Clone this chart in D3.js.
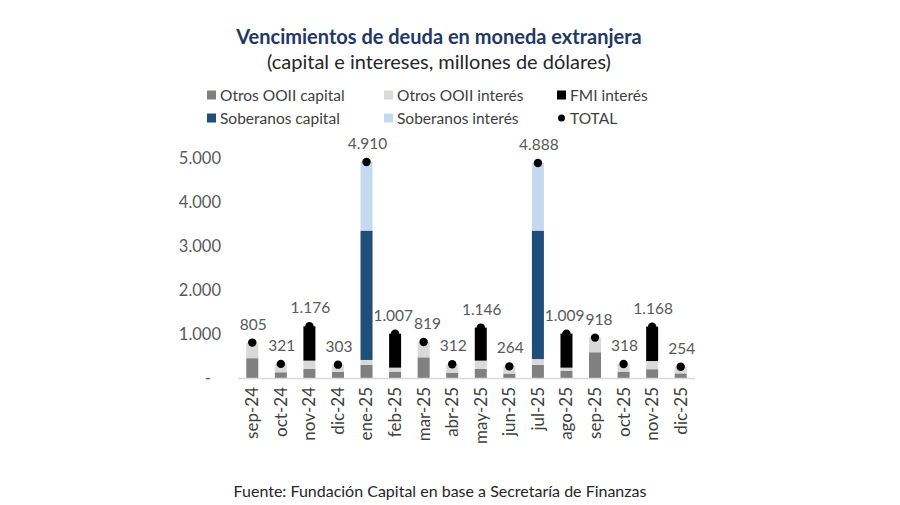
<!DOCTYPE html>
<html><head><meta charset="utf-8">
<script src="https://cdn.jsdelivr.net/npm/d3@7"></script>
<style>body{margin:0;background:#fff}svg{display:block}text{font-family:Lato,"Open Sans",sans-serif}</style>
</head><body><svg id="c" width="900" height="505"></svg>
<script>
const categories = ["sep-24","oct-24","nov-24","dic-24","ene-25","feb-25","mar-25","abr-25","may-25","jun-25","jul-25","ago-25","sep-25","oct-25","nov-25","dic-25"];
const otrosCapital  = [450,130,205,140,300,145,470,120,205,100,300,160,585,145,200,105];
const otrosInteres  = [355,191,190,163,110, 90,349,192,190,164,130, 75,333,173,186,149];
const fmiInteres    = [  0,  0,781,  0,  0,772,  0,  0,751,  0,  0,774,  0,  0,782,  0];
const soberanosCap  = [  0,  0,  0,  0,2940, 0,  0,  0,  0,  0,2920, 0,  0,  0,  0,  0];
const soberanosInt  = [  0,  0,  0,  0,1560, 0,  0,  0,  0,  0,1538, 0,  0,  0,  0,  0];
const totals        = [805,321,1176,303,4910,1007,819,312,1146,264,4888,1009,918,318,1168,254];
const yTicks = [0,1000,2000,3000,4000,5000];
const seriesNames = ["Otros OOII capital","Otros OOII interés","FMI interés","Soberanos capital","Soberanos interés"];
const seriesColors = ["#808080","#d9d9d9","#000000","#1f4e79","#c5d9f1"];

const svg = d3.select("#c");
const x = d3.scaleBand().domain(categories).range([238,695]).paddingInner(0.58).paddingOuter(0.29);
const y = d3.scaleLinear().domain([0,5000]).range([378,158]);
const fmt = v => v===0 ? "-" : d3.format(",")(v).replace(/,/g,".");
const cx = c => x(c)+x.bandwidth()/2;

// title
svg.append("text").attr("x",439).attr("y",44).attr("text-anchor","middle")
  .attr("font-size",20).attr("font-weight","bold").attr("fill","#1f3864")
  .text("Vencimientos de deuda en moneda extranjera");
svg.append("text").attr("x",439).attr("y",69).attr("text-anchor","middle")
  .attr("font-size",20).attr("fill","#262626")
  .text("(capital e intereses, millones de dólares)");

// legend
const legendItems = [
  {n:seriesNames[0],c:seriesColors[0],x:207,y:95},
  {n:seriesNames[1],c:seriesColors[1],x:384,y:95},
  {n:seriesNames[2],c:seriesColors[2],x:557,y:95},
  {n:seriesNames[3],c:seriesColors[3],x:207,y:118},
  {n:seriesNames[4],c:seriesColors[4],x:384,y:118},
  {n:"TOTAL",c:"#000",x:557,y:118,dot:true}
];
const lg = svg.append("g");
legendItems.forEach(d=>{
  if(d.dot) lg.append("circle").attr("cx",d.x+4.5).attr("cy",d.y).attr("r",3.5).attr("fill",d.c);
  else lg.append("rect").attr("x",d.x).attr("y",d.y-4.5).attr("width",9).attr("height",9).attr("fill",d.c);
  lg.append("text").attr("x",d.x+13).attr("y",d.y+5.5).attr("font-size",15.5).attr("fill","#404040").text(d.n);
});

// y axis labels
const ya = svg.append("g").attr("transform","translate(221,0)")
  .call(d3.axisLeft(y).tickValues(yTicks).tickFormat(fmt).tickSize(0).tickPadding(0));
ya.select(".domain").remove();
ya.selectAll("text").attr("font-size",16.5).attr("fill","#595959").attr("font-family","Lato,sans-serif");
ya.selectAll(".tick").filter(d=>d===0).select("text").attr("dx",-10);

// bars
const rows = categories.map((c,i)=>({cat:c,s0:otrosCapital[i],s1:otrosInteres[i],s2:fmiInteres[i],s3:soberanosCap[i],s4:soberanosInt[i]}));
const stack = d3.stack().keys(["s0","s1","s2","s3","s4"])(rows);
svg.append("g").selectAll("g").data(stack).join("g").attr("fill",(d,i)=>seriesColors[i])
  .selectAll("rect").data(d=>d).join("rect")
  .attr("x",d=>x(d.data.cat)).attr("width",x.bandwidth())
  .attr("y",d=>y(d[1])).attr("height",d=>Math.max(0,y(d[0])-y(d[1])));

// x axis
const xa = svg.append("g").attr("transform","translate(0,378)")
  .call(d3.axisBottom(x).tickSize(0).tickPadding(0));
xa.select(".domain").attr("stroke","#d9d9d9").attr("stroke-width",1.3).attr("d","M238,0.5H695");
xa.selectAll("text").attr("font-size",17).attr("fill","#404040").attr("font-family","Lato,sans-serif")
  .attr("transform","rotate(-90)").attr("text-anchor","end").attr("x",-9).attr("y",0).attr("dy","0.35em");

// totals
svg.append("g").selectAll("circle").data(totals).join("circle")
  .attr("cx",(d,i)=>cx(categories[i])).attr("cy",d=>y(d)).attr("r",4.2).attr("fill","#000");

// label nudges to avoid collisions between adjacent labels (Excel-like placement)
const labels = svg.append("g").selectAll("text").data(totals).join("text")
  .attr("x",(d,i)=>cx(categories[i])+1).attr("y",d=>y(d)-13)
  .attr("text-anchor","middle").attr("font-size",15.5).attr("fill","#595959").text(fmt);
// resolve overlaps: push left label left / right label right
const nodes = labels.nodes();
for (let i=0;i<nodes.length-1;i++){
  const a=nodes[i].getBBox(), b=nodes[i+1].getBBox();
  const vOverlap = a.y < b.y+b.height && b.y < a.y+a.height;
  const hOverlap = a.x+a.width - b.x + 1;
  if (vOverlap && hOverlap>0){
    const s = hOverlap/2;
    nodes[i].setAttribute("x", +nodes[i].getAttribute("x")-s);
    nodes[i+1].setAttribute("x", +nodes[i+1].getAttribute("x")+s);
  }
}

// footnote
svg.append("text").attr("x",440).attr("y",497).attr("text-anchor","middle")
  .attr("font-size",16).attr("fill","#262626")
  .text("Fuente: Fundación Capital en base a Secretaría de Finanzas");
</script></body></html>
